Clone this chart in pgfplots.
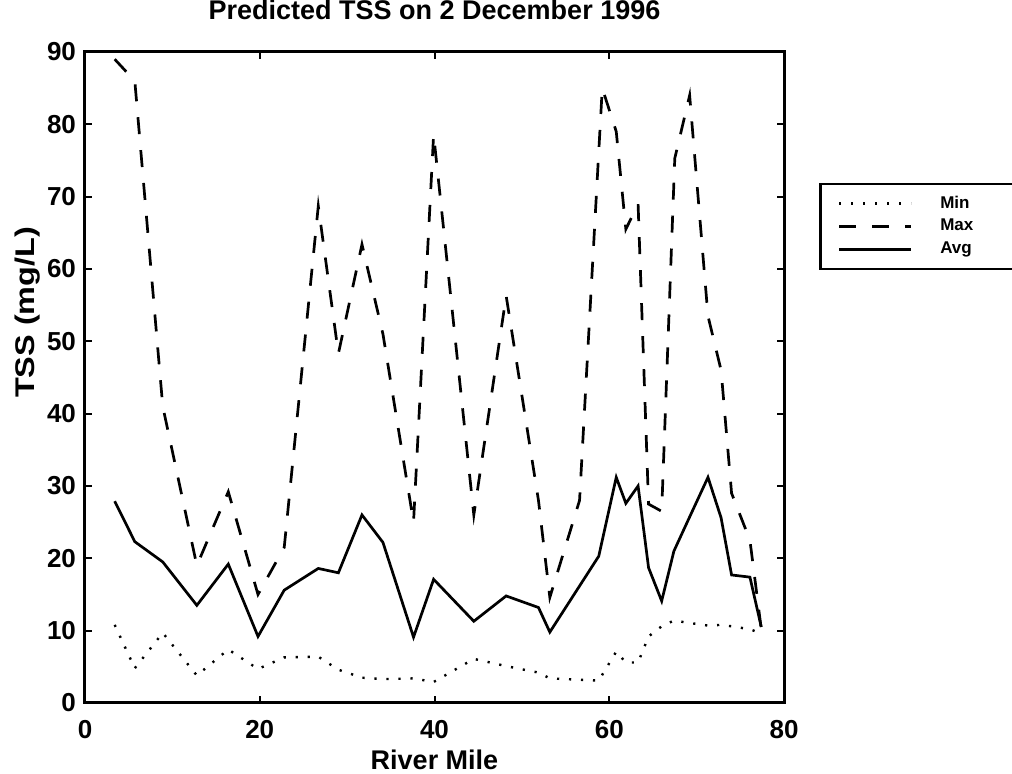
\documentclass[border=0pt]{standalone}
\usepackage{fontspec}
\setmainfont{Liberation Sans}
\usepackage{pgfplots}
\pgfplotsset{compat=1.18}

\begin{document}
\begin{tikzpicture}
\path[use as bounding box] (0,0) rectangle (506pt,387pt);
\begin{axis}[
  at={(42.5pt,35.5pt)}, anchor=south west,
  scale only axis, width=349.5pt, height=325.5pt,
  xmin=0, xmax=80, ymin=0, ymax=90,
  xtick={0,20,...,80}, ytick={0,10,...,90},
  tick align=inside, major tick length=3.5pt,
  axis line style={line width=1.5pt},
  every tick/.style={black, line width=1pt},
  font=\bfseries\fontsize{13}{15}\selectfont,
  /pgf/number format/assume math mode=true,
  ticklabel style={font=\bfseries\fontsize{13}{15}\selectfont},
  yticklabel style={xshift=-1pt},
  title={Predicted TSS on 2 December 1996},
  title style={at={(axis description cs:0.5,1)}, anchor=base, yshift=10pt, font=\bfseries\fontsize{13.5}{15}\selectfont},
  xlabel={River Mile},
  xlabel style={at={(axis description cs:0.5,-0.0876)}, anchor=center, font=\bfseries\fontsize{13.5}{15}\selectfont},
  ylabel={\scalebox{1.2}[1]{TSS (mg/L)}},
  ylabel style={at={(axis description cs:-0.0815,0.6)}, anchor=center, font=\bfseries\fontsize{13.5}{15}\selectfont},
  xticklabel style={yshift=-5pt},
  legend cell align=left,
  legend style={at={(rel axis cs:1.05,0.799)}, anchor=north west, draw=black, line width=1.3pt,
    inner xsep=0pt, inner ysep=4pt, row sep=0pt,
    font=\bfseries\fontsize{8.5}{9}\selectfont,
    nodes={inner sep=0pt}},
  legend image code/.code={
    \path[draw=none, fill=none] (0pt,-5.75pt) rectangle (60pt,5.75pt);
    \draw[#1] (9.5pt,0pt) -- (45.5pt,0pt);
  },
]
\addplot[black, line width=1.2pt, dash pattern=on 1.1pt off 4.9pt] coordinates {
(3.4,10.8) (5.7,4.8) (8.9,9.7) (12.8,3.8) (16.4,7.4) (19.8,4.7) (22.8,6.3) (26.7,6.4)
(29.0,4.6) (31.7,3.5) (34.1,3.3) (37.6,3.4) (39.9,2.9) (44.5,6.1) (48.2,5.1) (51.9,4.2)
(53.2,3.4) (58.8,3.1) (60.8,7.1) (61.9,5.6) (63.3,5.6) (64.5,9.2) (66.0,10.6) (67.4,11.4)
(69.0,11.1) (71.3,10.7) (72.8,10.8) (74.0,10.6) (76.1,10.2) (77.4,9.6)
};
\addlegendentry{Min\hspace*{22pt}}
\addplot[black, line width=1.35pt, dash pattern=on 8.5pt off 8pt] coordinates {
(3.4,89) (5.7,86) (8.9,41) (12.8,19) (16.4,29.2) (19.8,15) (22.8,21.5) (26.7,68.7)
(29.0,48.3) (31.7,63.4) (34.1,51) (37.6,25) (39.9,78.6) (44.5,26) (48.2,56.3) (51.9,28)
(53.2,14.6) (56.6,28) (59.2,85) (60.8,79) (61.9,65.5) (63.3,69) (64.5,27.5) (66.0,26.5)
(67.5,75.3) (69.2,84) (71.3,53.5) (72.8,46) (74.0,29) (76.1,22.5) (77.4,10.2)
};
\addlegendentry{Max}
\addplot[black, line width=1.35pt] coordinates {
(3.4,27.9) (5.7,22.3) (8.9,19.5) (12.8,13.5) (16.4,19.2) (19.8,9.2) (22.8,15.6) (26.7,18.6)
(29.0,18.0) (31.7,26.0) (34.1,22.2) (37.6,9.1) (39.9,17.1) (44.5,11.3) (48.2,14.8) (51.9,13.2)
(53.2,9.8) (58.8,20.3) (60.8,31.2) (61.9,27.6) (63.3,30.0) (64.5,18.7) (66.0,14.1) (67.4,21.0)
(69.0,25.2) (71.3,31.2) (72.8,25.6) (74.0,17.7) (76.1,17.4) (77.4,10.5)
};
\addlegendentry{Avg}
\end{axis}
\end{tikzpicture}
\end{document}
